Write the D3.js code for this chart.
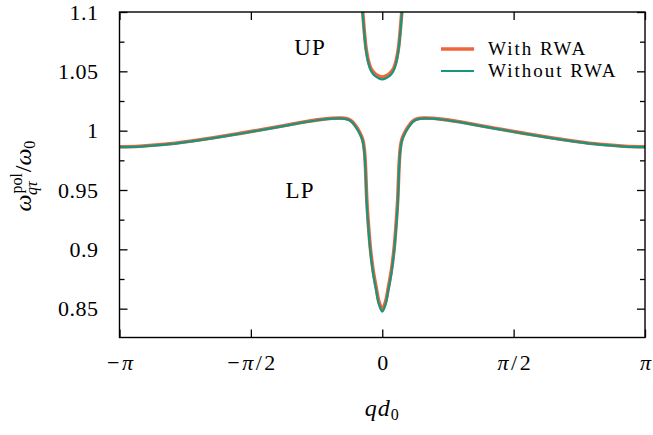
<!DOCTYPE html>
<html>
<head>
<meta charset="utf-8">
<script src="https://cdn.jsdelivr.net/npm/d3@7"></script>
<style>
  body { margin: 0; background: #fff; }
  svg { display: block; }
  text { font-family: "Liberation Serif", "DejaVu Serif", serif; fill: #000; }
</style>
</head>
<body>
<div id="chart"></div>
<script>
// ===== Data =====
const xTicks = [-Math.PI, -Math.PI / 2, 0, Math.PI / 2, Math.PI];
const xTickLabels = ['−π', '−π/2', '0', 'π/2', 'π'];
const yTicks = [0.85, 0.9, 0.95, 1, 1.05, 1.1];
const yTickLabels = ['0.85', '0.9', '0.95', '1', '1.05', '1.1'];
const yMinorTicks = [0.875, 0.925, 0.975, 1.025, 1.075];

// lower polariton branch
const lpQ = [-3.1416, -2.9, -2.6, -2.3, -2.0, -1.7, -1.4, -1.1, -0.9, -0.75, -0.6, -0.5, -0.45, -0.4, -0.36, -0.32, -0.285, -0.26, -0.24, -0.225, -0.213, -0.203, -0.195, -0.185, -0.165, -0.143, -0.11, -0.072, -0.04, 0,
             0.04, 0.072, 0.11, 0.143, 0.165, 0.185, 0.195, 0.203, 0.213, 0.225, 0.24, 0.26, 0.285, 0.32, 0.36, 0.4, 0.45, 0.5, 0.6, 0.75, 0.9, 1.1, 1.4, 1.7, 2.0, 2.3, 2.6, 2.9, 3.1416];
const lpNoRwa = [0.9861, 0.9866, 0.9882, 0.9908, 0.9939, 0.9974, 1.0011, 1.0049, 1.0074, 1.0090, 1.0101, 1.0103, 1.0100, 1.0090, 1.0070, 1.0035, 0.9995, 0.9960, 0.9925, 0.9880, 0.9810, 0.9700, 0.9560, 0.9380, 0.9170, 0.8990, 0.8800, 0.8650, 0.8535, 0.8475,
                 0.8535, 0.8650, 0.8800, 0.8990, 0.9170, 0.9380, 0.9560, 0.9700, 0.9810, 0.9880, 0.9925, 0.9960, 0.9995, 1.0035, 1.0070, 1.0090, 1.0100, 1.0103, 1.0101, 1.0090, 1.0074, 1.0049, 1.0011, 0.9974, 0.9939, 0.9908, 0.9882, 0.9866, 0.9861];
const lpRwa = [0.9864, 0.9869, 0.9885, 0.9911, 0.9942, 0.9977, 1.0014, 1.0052, 1.0077, 1.0093, 1.0104, 1.0106, 1.0104, 1.0095, 1.0076, 1.0042, 1.0004, 0.9970, 0.9937, 0.9895, 0.9830, 0.9730, 0.9600, 0.9420, 0.9205, 0.9015, 0.8825, 0.8674, 0.8560, 0.8497,
               0.8560, 0.8674, 0.8825, 0.9015, 0.9205, 0.9420, 0.9600, 0.9730, 0.9830, 0.9895, 0.9937, 0.9970, 1.0004, 1.0042, 1.0076, 1.0095, 1.0104, 1.0106, 1.0104, 1.0093, 1.0077, 1.0052, 1.0014, 0.9977, 0.9942, 0.9911, 0.9885, 0.9869, 0.9864];

// upper polariton branch
const upQ = [-0.27, -0.236, -0.215, -0.195, -0.17, -0.14, -0.11, -0.084, -0.045, 0, 0.045, 0.084, 0.11, 0.14, 0.17, 0.195, 0.215, 0.236, 0.27];
const upNoRwa = [1.135, 1.100, 1.082, 1.068, 1.058, 1.0511, 1.0478, 1.0460, 1.0442, 1.0433, 1.0442, 1.0460, 1.0478, 1.0511, 1.058, 1.068, 1.082, 1.100, 1.135];
const upRwa = [1.137, 1.102, 1.084, 1.070, 1.060, 1.0530, 1.0497, 1.0479, 1.0461, 1.0452, 1.0461, 1.0479, 1.0497, 1.0530, 1.060, 1.070, 1.084, 1.102, 1.137];

const seriesNames = ['With RWA', 'Without RWA'];
const seriesColors = ['#f0643c', '#17967e'];

// ===== Layout =====
const W = 653, H = 435;
const plot = { left: 119.5, right: 645, top: 12, bottom: 337.5 };
const fontSize = 22;

const svg = d3.select('#chart').append('svg')
  .attr('width', W)
  .attr('height', H);

const x = d3.scaleLinear().domain([-Math.PI, Math.PI]).range([plot.left, plot.right]);
const y = d3.scaleLinear().domain([0.8257, 1.1]).range([plot.bottom, plot.top]);

svg.append('clipPath').attr('id', 'clip')
  .append('rect')
  .attr('x', plot.left).attr('y', plot.top)
  .attr('width', plot.right - plot.left).attr('height', plot.bottom - plot.top);

// π in italics, like the math labels
function mathLabel(sel) {
  sel.each(function () {
    const t = d3.select(this);
    const s = t.text();
    t.text(null);
    for (const ch of s) {
      t.append('tspan').style('font-style', ch === 'π' ? 'italic' : 'normal').text(ch);
    }
  });
}

function styleAxis(g) {
  g.select('.domain').remove();
  g.selectAll('.tick line').attr('stroke', '#000').attr('stroke-width', 1.3);
  g.selectAll('.tick text')
    .attr('font-family', '"Liberation Serif", serif')
    .attr('font-size', fontSize);
}

// y axis, left
svg.append('g')
  .attr('transform', `translate(${plot.left},0)`)
  .call(d3.axisLeft(y).tickValues(yTicks).tickSize(-8).tickPadding(21)
    .tickFormat((d, i) => yTickLabels[i]))
  .call(styleAxis)
  .call(g => g.selectAll('.tick text').attr('letter-spacing', 0.5));
svg.append('g')
  .attr('transform', `translate(${plot.left},0)`)
  .call(d3.axisLeft(y).tickValues(yMinorTicks).tickSize(-5).tickFormat(''))
  .call(styleAxis);

// y axis, right (mirror)
svg.append('g')
  .attr('transform', `translate(${plot.right},0)`)
  .call(d3.axisRight(y).tickValues(yTicks).tickSize(-8).tickFormat(''))
  .call(styleAxis);
svg.append('g')
  .attr('transform', `translate(${plot.right},0)`)
  .call(d3.axisRight(y).tickValues(yMinorTicks).tickSize(-5).tickFormat(''))
  .call(styleAxis);

// x axis, bottom
svg.append('g')
  .attr('transform', `translate(0,${plot.bottom})`)
  .call(d3.axisBottom(x).tickValues(xTicks).tickSize(-8).tickPadding(17)
    .tickFormat((d, i) => xTickLabels[i]))
  .call(styleAxis)
  .call(g => g.selectAll('.tick text').attr('letter-spacing', 2.5).attr('dx', 1.2).call(mathLabel));

// x axis, top (mirror)
svg.append('g')
  .attr('transform', `translate(0,${plot.top})`)
  .call(d3.axisTop(x).tickValues(xTicks).tickSize(-8).tickFormat(''))
  .call(styleAxis);

// ===== Curves =====
const line = d3.line()
  .x(d => x(d[0]))
  .y(d => y(d[1]))
  .curve(d3.curveCatmullRom.alpha(0.5));

const curves = svg.append('g').attr('clip-path', 'url(#clip)');

function drawBranch(qs, vals, color, width) {
  curves.append('path')
    .datum(qs.map((q, i) => [q, vals[i]]))
    .attr('fill', 'none')
    .attr('stroke', color)
    .attr('stroke-width', width)
    .attr('stroke-linejoin', 'round')
    .attr('d', line);
}

drawBranch(lpQ, lpRwa, seriesColors[0], 3.6);
drawBranch(upQ, upRwa, seriesColors[0], 3.6);
drawBranch(lpQ, lpNoRwa, seriesColors[1], 2.2);
drawBranch(upQ, upNoRwa, seriesColors[1], 2.2);

// frame
svg.append('rect')
  .attr('x', plot.left).attr('y', plot.top)
  .attr('width', plot.right - plot.left).attr('height', plot.bottom - plot.top)
  .attr('fill', 'none')
  .attr('stroke', '#000')
  .attr('stroke-width', 1.4);

// branch labels
svg.append('text').attr('x', 310).attr('y', 55).attr('text-anchor', 'middle')
  .attr('font-size', fontSize + 1).attr('letter-spacing', 1).text('UP');
svg.append('text').attr('x', 300).attr('y', 198).attr('text-anchor', 'middle')
  .attr('font-size', fontSize + 1).attr('letter-spacing', 1).text('LP');

// legend
const legend = svg.append('g')
  .selectAll('g')
  .data(seriesNames)
  .enter().append('g')
  .attr('transform', (d, i) => `translate(441,${49 + i * 22})`);

legend.append('line')
  .attr('x1', 0).attr('x2', 33)
  .attr('stroke', (d, i) => seriesColors[i])
  .attr('stroke-width', (d, i) => i === 0 ? 3.6 : 2.2);

legend.append('text')
  .attr('x', 47)
  .attr('dy', '0.34em')
  .attr('font-size', 19)
  .attr('letter-spacing', 2)
  .text(d => d);

// x label
const xl = svg.append('text')
  .attr('x', (plot.left + plot.right) / 2)
  .attr('y', 416)
  .attr('text-anchor', 'middle')
  .attr('font-size', fontSize + 2)
  .attr('letter-spacing', 1);
xl.append('tspan').style('font-style', 'italic').text('qd');
xl.append('tspan').attr('font-size', 16).attr('dy', 4).text('0');

// y label
const yl = svg.append('text')
  .attr('transform', 'translate(31,176) rotate(-90)')
  .attr('text-anchor', 'middle')
  .attr('font-size', fontSize + 2);
yl.append('tspan').style('font-style', 'italic').text('ω');
yl.append('tspan').attr('font-size', 16).attr('dx', 1).attr('dy', -9).text('pol');
yl.append('tspan').attr('font-size', 16).attr('dx', -22).attr('dy', 15).style('font-style', 'italic').text('qτ');
yl.append('tspan').attr('dx', 9).attr('dy', -6).text('/');
yl.append('tspan').style('font-style', 'italic').text('ω');
yl.append('tspan').attr('font-size', 16).attr('dy', 4).text('0');
</script>
</body>
</html>
